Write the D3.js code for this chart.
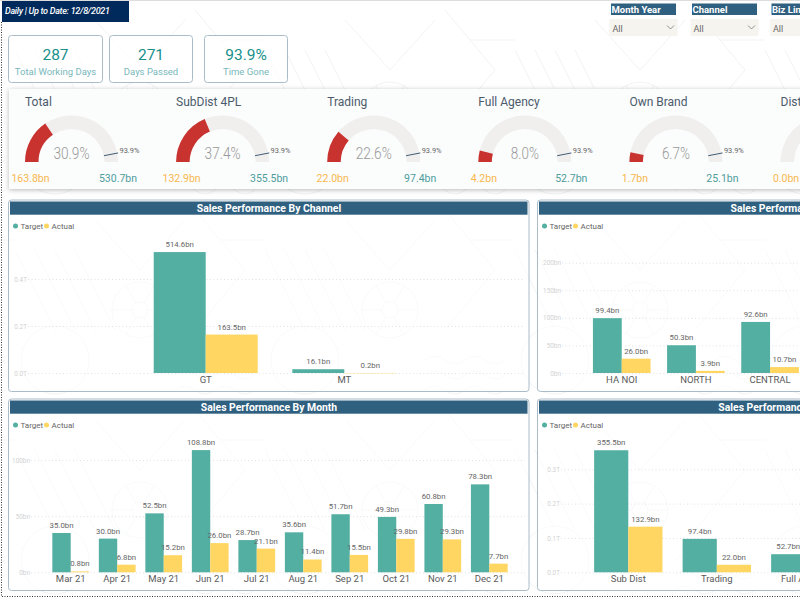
<!DOCTYPE html>
<html><head><meta charset="utf-8">
<script src="https://cdn.jsdelivr.net/npm/d3@7/dist/d3.min.js"></script>
<style>html,body{margin:0;padding:0;background:#fff;overflow:hidden}svg{display:block}text{font-family:Roboto,sans-serif}</style>
</head><body><svg id="c" width="800" height="600"></svg>
<script>
const kpiValues=["287","271","93.9%"];
const kpiLabels=["Total Working Days","Days Passed","Time Gone"];
const gaugeNames=["Total","SubDist 4PL","Trading","Full Agency","Own Brand","Dist"];
const gaugeActual=[163.8,132.9,22.0,4.2,1.7,0.0];
const gaugeTarget=[530.7,355.5,97.4,52.7,25.1,0.0];
const gaugePct=[30.9,37.4,22.6,8.0,6.7,0.0];
const timeGone=93.9;
const slicerNames=["Month Year","Channel","Biz Line"];
const channelCats=["GT","MT"];
const channelTarget=[514.6,16.1];
const channelActual=[163.5,0.2];
const channelTicks=[0,200,400];
const regionCats=["HA NOI","NORTH","CENTRAL"];
const regionTarget=[99.4,50.3,92.6];
const regionActual=[26.0,3.9,10.7];
const regionTicks=[0,50,100,150,200];
const monthCats=["Mar 21","Apr 21","May 21","Jun 21","Jul 21","Aug 21","Sep 21","Oct 21","Nov 21","Dec 21"];
const monthTarget=[35.0,30.0,52.5,108.8,28.7,35.6,51.7,49.3,60.8,78.3];
const monthActual=[0.8,6.8,15.2,26.0,21.1,11.4,15.5,29.8,29.3,7.7];
const monthTicks=[0,50,100];
const bizCats=["Sub Dist","Trading","Full Agency"];
const bizTarget=[355.5,97.4,52.7];
const bizActual=[132.9,22.0,4.2];
const bizTicks=[0,100,200,300];

const TEAL="#52AFA1",YEL="#FFD662",HEAD="#2F607F",EDGE="#A9BCC8";
const svg=d3.select("#c");
const defs=svg.append("defs");
const f=defs.append("filter").attr("id","sh").attr("x","-5%").attr("y","-15%").attr("width","110%").attr("height","130%");
f.append("feDropShadow").attr("dx",0).attr("dy",1).attr("stdDeviation",2.5).attr("flood-color","#000").attr("flood-opacity",.28);
// faint decorative wallpaper
const pat=defs.append("pattern").attr("id","wall").attr("patternUnits","userSpaceOnUse").attr("width",250).attr("height",200).attr("x",15).attr("y",10);
const pg=pat.append("g").attr("fill","none").attr("stroke","#F1F3F3").attr("stroke-width",1);
pg.append("circle").attr("cx",125).attr("cy",100).attr("r",28);
pg.append("circle").attr("cx",125).attr("cy",100).attr("r",8);
d3.range(6).forEach(i=>{const a=i*Math.PI/3;pg.append("line").attr("x1",125+8*Math.cos(a)).attr("y1",100+8*Math.sin(a)).attr("x2",125+28*Math.cos(a)).attr("y2",100+28*Math.sin(a));});
pg.append("circle").attr("cx",40).attr("cy",150).attr("r",34);
pg.append("path").attr("d","M0 40L40 120M20 40L60 120M40 40L80 120M60 40L100 120");
pg.append("path").attr("d","M160 150q10-8 20 0t20 0t20 0t20 0M160 165q10-8 20 0t20 0t20 0t20 0M160 180q10-8 20 0t20 0t20 0t20 0");
pg.append("path").attr("d","M180 0L230 60L180 120M205 30L250 30M170 10L125 60L80 10");
svg.append("rect").attr("width",800).attr("height",600).attr("fill","#fff");
svg.append("rect").attr("width",800).attr("height",600).attr("fill","url(#wall)");
svg.append("line").attr("x1",0).attr("x2",800).attr("y1",0.5).attr("y2",0.5).attr("stroke","#ddd");

// page frame
svg.append("path").attr("d","M1.5 22V596.5H800").attr("fill","none").attr("stroke","#333").attr("stroke-width",1).attr("stroke-dasharray","1 1.5");
// title
svg.append("rect").attr("x",2).attr("y",1).attr("width",127).attr("height",21).attr("fill","#002A5C");
svg.append("text").attr("x",5).attr("y",13.5).attr("fill","#fff").attr("font-size",9).attr("font-style","italic").attr("font-weight",500).attr("textLength",105).text("Daily | Up to Date: 12/8/2021");

// slicers
const slicerX=[611,692,771.5];
slicerNames.forEach((s,i)=>{
  const x=slicerX[i];
  svg.append("rect").attr("x",x).attr("y",3.5).attr("width",65).attr("height",11.5).attr("fill",HEAD);
  svg.append("text").attr("x",x+.5).attr("y",12.8).attr("fill","#fff").attr("font-size",9.5).attr("font-weight",700).text(s);
  svg.append("rect").attr("x",x-1.5).attr("y",19).attr("width",68).attr("height",17).attr("fill","#F6F4EE");
  svg.append("text").attr("x",x+1.5).attr("y",31.5).attr("fill","#666").attr("font-size",9).text("All");
  svg.append("path").attr("d",`M${x+56} 25.5l3.5 3.5l3.5-3.5`).attr("fill","none").attr("stroke","#777").attr("stroke-width",.8);
});

// KPI cards
const kpiX=[8.5,109.5,204.5],kpiW=[94,83,83];
kpiValues.forEach((v,i)=>{
  svg.append("rect").attr("x",kpiX[i]).attr("y",35.5).attr("width",kpiW[i]).attr("height",47).attr("rx",3).attr("fill","rgba(255,255,255,.7)").attr("stroke",EDGE);
  const cx=kpiX[i]+kpiW[i]/2;
  svg.append("text").attr("x",cx).attr("y",59.5).attr("text-anchor","middle").attr("fill","#17908B").attr("font-size",15.5).text(v);
  svg.append("text").attr("x",cx).attr("y",75).attr("text-anchor","middle").attr("fill","#78B7BA").attr("font-size",9.5).text(kpiLabels[i]);
});

// gauges
svg.append("rect").attr("x",9).attr("y",89).attr("width",800).attr("height",100).attr("fill","#FBFCFC").attr("filter","url(#sh)");
const R=46.5,r=33,gy=162;
const angle=d3.scaleLinear().domain([0,100]).range([-Math.PI/2,Math.PI/2]);
const arc=d3.arc().innerRadius(r).outerRadius(R);
const gaugeX=d3.scalePoint().domain(gaugeNames).range([71.5,827]);
gaugeNames.forEach((n,i)=>{
  const cx=gaugeX(n),g=svg.append("g").attr("transform",`translate(${cx},${gy})`);
  svg.append("text").attr("x",cx-R).attr("y",106).attr("fill","#4B5B6B").attr("font-size",12).text(n);
  g.append("path").attr("d",arc({startAngle:angle(0),endAngle:angle(100)})).attr("fill","#F1EFEE");
  g.append("path").attr("d",arc({startAngle:angle(0),endAngle:angle(gaugePct[i])})).attr("fill","#C8322F");
  const a=angle(timeGone)-Math.PI/2;
  g.append("line").attr("x1",r*Math.cos(a)).attr("y1",r*Math.sin(a)).attr("x2",(R+1)*Math.cos(a)).attr("y2",(R+1)*Math.sin(a)).attr("stroke","#3E5C76").attr("stroke-width",1);
  g.append("text").attr("x",-41).attr("y",20).attr("text-anchor","middle").attr("fill","#F8B84E").attr("font-size",10.5).text(gaugeActual[i].toFixed(1)+"bn");
  if(cx+R<800){ // the rest of the last gauge lies beyond the page edge
    g.append("text").attr("x",R+1.5).attr("y",-9).attr("fill","#666").attr("font-size",7.4).text(timeGone.toFixed(1)+"%");
    const t=gaugePct[i].toFixed(1)+"%";
    g.append("text").attr("x",0).attr("y",-3).attr("text-anchor","middle").attr("fill","#999").attr("font-size",16).attr("font-weight",300).attr("lengthAdjust","spacingAndGlyphs").attr("textLength",t.length>4?36:28).text(t);
    g.append("text").attr("x",46.5).attr("y",20).attr("text-anchor","middle").attr("fill","#4E9C9C").attr("font-size",10.5).text(gaugeTarget[i].toFixed(1)+"bn");
  }
});

// bar chart panel
function panel(o){
  const g=svg.append("g");
  g.append("rect").attr("x",o.x).attr("y",o.y).attr("width",o.w).attr("height",191.5).attr("rx",3).attr("fill","rgba(255,255,255,.55)").attr("stroke",EDGE);
  g.append("rect").attr("x",o.x+1.5).attr("y",o.y+1.5).attr("width",o.w-3).attr("height",13.2).attr("fill",HEAD);
  g.append("text").attr("x",o.titleX).attr("y",o.y+12).attr("text-anchor","middle").attr("fill","#fff").attr("font-size",10.4).attr("font-weight",700).text(o.title);
  const ly=o.y+26,lx=o.x+7;
  g.append("circle").attr("cx",lx).attr("cy",ly).attr("r",2.5).attr("fill",TEAL);
  g.append("text").attr("x",lx+5).attr("y",ly+2.8).attr("fill","#666").attr("font-size",8).text("Target");
  g.append("circle").attr("cx",lx+31).attr("cy",ly).attr("r",2.5).attr("fill",YEL);
  g.append("text").attr("x",lx+36).attr("y",ly+2.8).attr("fill","#666").attr("font-size",8).text("Actual");

  const y=d3.scaleLinear().domain([0,o.topVal]).range([o.base,o.topY]);
  const x=d3.scaleBand().domain(o.cats).range(o.range).paddingInner(o.pad).paddingOuter(o.pad/2);
  const x2=d3.scaleBand().domain(["Target","Actual"]).range([0,x.bandwidth()]);
  const axis=g.append("g").attr("transform",`translate(${o.gridL},0)`).call(d3.axisLeft(y).tickValues(o.ticks).tickSize(-(o.gridR-o.gridL)).tickFormat(o.fmt));
  axis.select(".domain").remove();
  axis.selectAll(".tick line").attr("stroke","#DFE3E4").attr("stroke-dasharray","1 2.5");
  axis.selectAll(".tick text").attr("fill","#D2D2D2").attr("font-size",6.4).attr("x",-1).attr("font-family","Roboto");
  const xa=g.append("g").attr("transform",`translate(0,${o.base})`).call(d3.axisBottom(x).tickSize(0));
  xa.select(".domain").remove();
  xa.selectAll(".tick text").attr("fill","#5A5A5A").attr("font-size",9.5).attr("y",o.catDy).attr("font-family","Roboto").attr("dy",0);
  [["Target",o.target,TEAL],["Actual",o.actual,YEL]].forEach(([s,vals,col])=>{
    const b=g.append("g").selectAll("g").data(o.cats).join("g").attr("transform",d=>`translate(${x(d)+x2(s)},0)`);
    b.append("rect").attr("width",x2.bandwidth()).attr("y",(d,i)=>y(vals[i])).attr("height",(d,i)=>Math.max(y(0)-y(vals[i]),.7))
      .attr("fill",col).attr("fill-opacity",(d,i)=>vals[i]<1&&o.faint?.45:1);
    b.append("text").attr("x",x2.bandwidth()/2).attr("y",(d,i)=>y(vals[i])-5).attr("text-anchor","middle").attr("fill","#666").attr("font-size",7.8).text((d,i)=>vals[i].toFixed(1)+"bn");
  });
}
const fmtT=d=>(d/1000).toFixed(1)+"T",fmtB=d=>d+"bn";
panel({x:8.5,y:200,w:520.5,title:"Sales Performance By Channel",titleX:269,cats:channelCats,target:channelTarget,actual:channelActual,ticks:channelTicks,fmt:fmtT,topVal:400,base:373,topY:279,range:[136.4,413.6],pad:.25,gridL:28,gridR:525,catDy:10,faint:true});
panel({x:537.5,y:200,w:530,title:"Sales Performance By Region",titleX:800,cats:regionCats,target:regionTarget,actual:regionActual,ticks:regionTicks,fmt:fmtB,topVal:200,base:373,topY:262.7,range:[584.65,807.15],pad:.223,gridL:562,gridR:800,catDy:10});
panel({x:8.5,y:399,w:520.5,title:"Sales Performance By Month",titleX:269,cats:monthCats,target:monthTarget,actual:monthActual,ticks:monthTicks,fmt:fmtB,topVal:100,base:572.3,topY:460,range:[47.45,512.55],pad:.21,gridL:31,gridR:525,catDy:10});
panel({x:537.5,y:399,w:530,title:"Sales Performance By Biz Line",titleX:790,cats:bizCats,target:bizTarget,actual:bizActual,ticks:bizTicks,fmt:fmtT,topVal:300,base:572.3,topY:469.3,range:[584.05,849.55],pad:.228,gridL:561,gridR:800,catDy:10});
</script></body></html>
